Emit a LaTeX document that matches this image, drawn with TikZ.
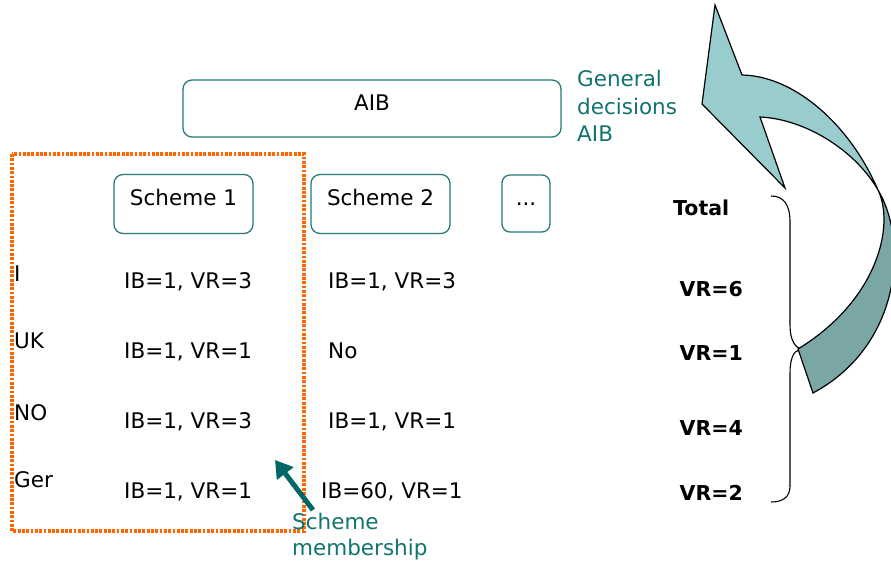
\documentclass[tikz,border=0pt]{standalone}
\usepackage{fontspec}
\setmainfont{DejaVu Sans}
\usetikzlibrary{arrows.meta}
\definecolor{boxteal}{RGB}{38,124,122}
\definecolor{txtteal}{RGB}{18,116,112}
\definecolor{arrteal}{RGB}{0,102,102}
\definecolor{lightarr}{RGB}{153,204,204}
\definecolor{darkarr}{RGB}{122,167,165}
\definecolor{dotorange}{RGB}{255,102,0}
\tikzset{
  box/.style={draw=boxteal, line width=1.3pt, rounded corners=9pt, inner sep=0pt},
  txt/.style={font=\fontsize{21.5}{27}\selectfont, inner sep=0pt, anchor=base west},
  ctxt/.style={txt, anchor=base},
  btxt/.style={font=\fontsize{20.5}{25}\selectfont\bfseries, inner sep=0pt, anchor=base west},
  tealtxt/.style={txt, text=txtteal, align=left, anchor=north west},
  outline/.style={draw=black, line width=1.2pt, line join=miter},
  memarrow/.style={draw=arrteal, line width=5pt, -{Triangle[length=17pt,width=20pt]}}
}
\begin{document}
\begin{tikzpicture}[x=1pt,y=-1pt]
\useasboundingbox (0,0) rectangle (891,562);
\fill[white] (0,0) rectangle (891,562);

% AIB box
\node[box, minimum width=378pt, minimum height=57pt] (aib) at (372,108.5) {};
\node[ctxt] (aibt) at (372,110) {AIB};
\node[tealtxt, font=\fontsize{21.5}{27.5}\selectfont] (gen) at (577,70) {General\\decisions\\AIB};

% scheme boxes
\node[box, minimum width=139pt, minimum height=59pt] (s1) at (183.5,204) {};
\node[ctxt] (s1t) at (183.5,205) {Scheme 1};
\node[box, minimum width=139pt, minimum height=59pt] (s2) at (380.5,204) {};
\node[ctxt] (s2t) at (380.5,205) {Scheme 2};
\node[box, minimum width=48pt, minimum height=57pt, rounded corners=8pt] (s3) at (526,203.5) {};
\node[ctxt] (s3t) at (526,205) {...};

% dotted frame
\draw[dotorange, line width=3.6pt, dash pattern=on 2.8pt off 1.5pt] (12,154) rectangle (304,531);

% row labels
\node[txt] (lI) at (14,281.5) {I};
\node[txt] (lUK) at (14,348) {UK};
\node[txt] (lNO) at (14,420) {NO};
\node[txt] (lGer) at (14,487) {Ger};

% column 1
\node[txt] (a1) at (124,288) {IB=1, VR=3};
\node[txt] (a2) at (124,358) {IB=1, VR=1};
\node[txt] (a3) at (124,428) {IB=1, VR=3};
\node[txt] (a4) at (124,498) {IB=1, VR=1};
% column 2
\node[txt] (b1) at (328,288) {IB=1, VR=3};
\node[txt] (b2) at (328,358) {No};
\node[txt] (b3) at (328,428) {IB=1, VR=1};
\node[txt] (b4) at (321,498) {IB=60, VR=1};

% totals
\node[btxt] (tot) at (673,215) {Total};
\node[btxt] (t1) at (679.5,296) {VR=6};
\node[btxt] (t2) at (679.5,360.5) {VR=1};
\node[btxt] (t3) at (679.5,435) {VR=4};
\node[btxt] (t4) at (679.5,500) {VR=2};

% brace
\draw[black, line width=1.1pt] (771,196) .. controls (784,196) and (790,205) .. (790,222) -- (790,325)
  .. controls (790,340) and (795,348) .. (802,349);
\draw[black, line width=1.1pt] (799,350) .. controls (794,351) and (790,358) .. (790,373) -- (790,486)
  .. controls (790,497) and (783,502) .. (771,502);

% big curved arrow
\begin{scope}
\clip (0,0) rectangle (891,562);
\fill[lightarr] (742,75) -- (715,5) -- (702,104) -- (785,188) -- (760,117)
  .. controls (805,119) and (855,150) .. (878,190)
  .. controls (850,125) and (795,76) .. (742,75) -- cycle;
\fill[darkarr] (878,190) .. controls (908,240) and (902,345) .. (813,393) -- (798,349)
  .. controls (878,300) and (895,225) .. (878,190) -- cycle;
\draw[outline] (742,75) -- (715,5) -- (702,104) -- (785,188) -- (760,117)
  .. controls (805,119) and (855,150) .. (878,190)
  .. controls (895,225) and (878,300) .. (798,349) -- (813,393)
  .. controls (902,345) and (908,240) .. (878,190)
  .. controls (850,125) and (795,76) .. (742,75) -- cycle;
\end{scope}

% scheme membership
\coordinate (mtail) at (313,510);
\coordinate (mhead) at (275,460);
\draw[memarrow] (mtail) -- (mhead);
\node[tealtxt, font=\fontsize{21.5}{25.5}\selectfont] (memb) at (292,513) {Scheme\\membership};
\end{tikzpicture}
\end{document}
